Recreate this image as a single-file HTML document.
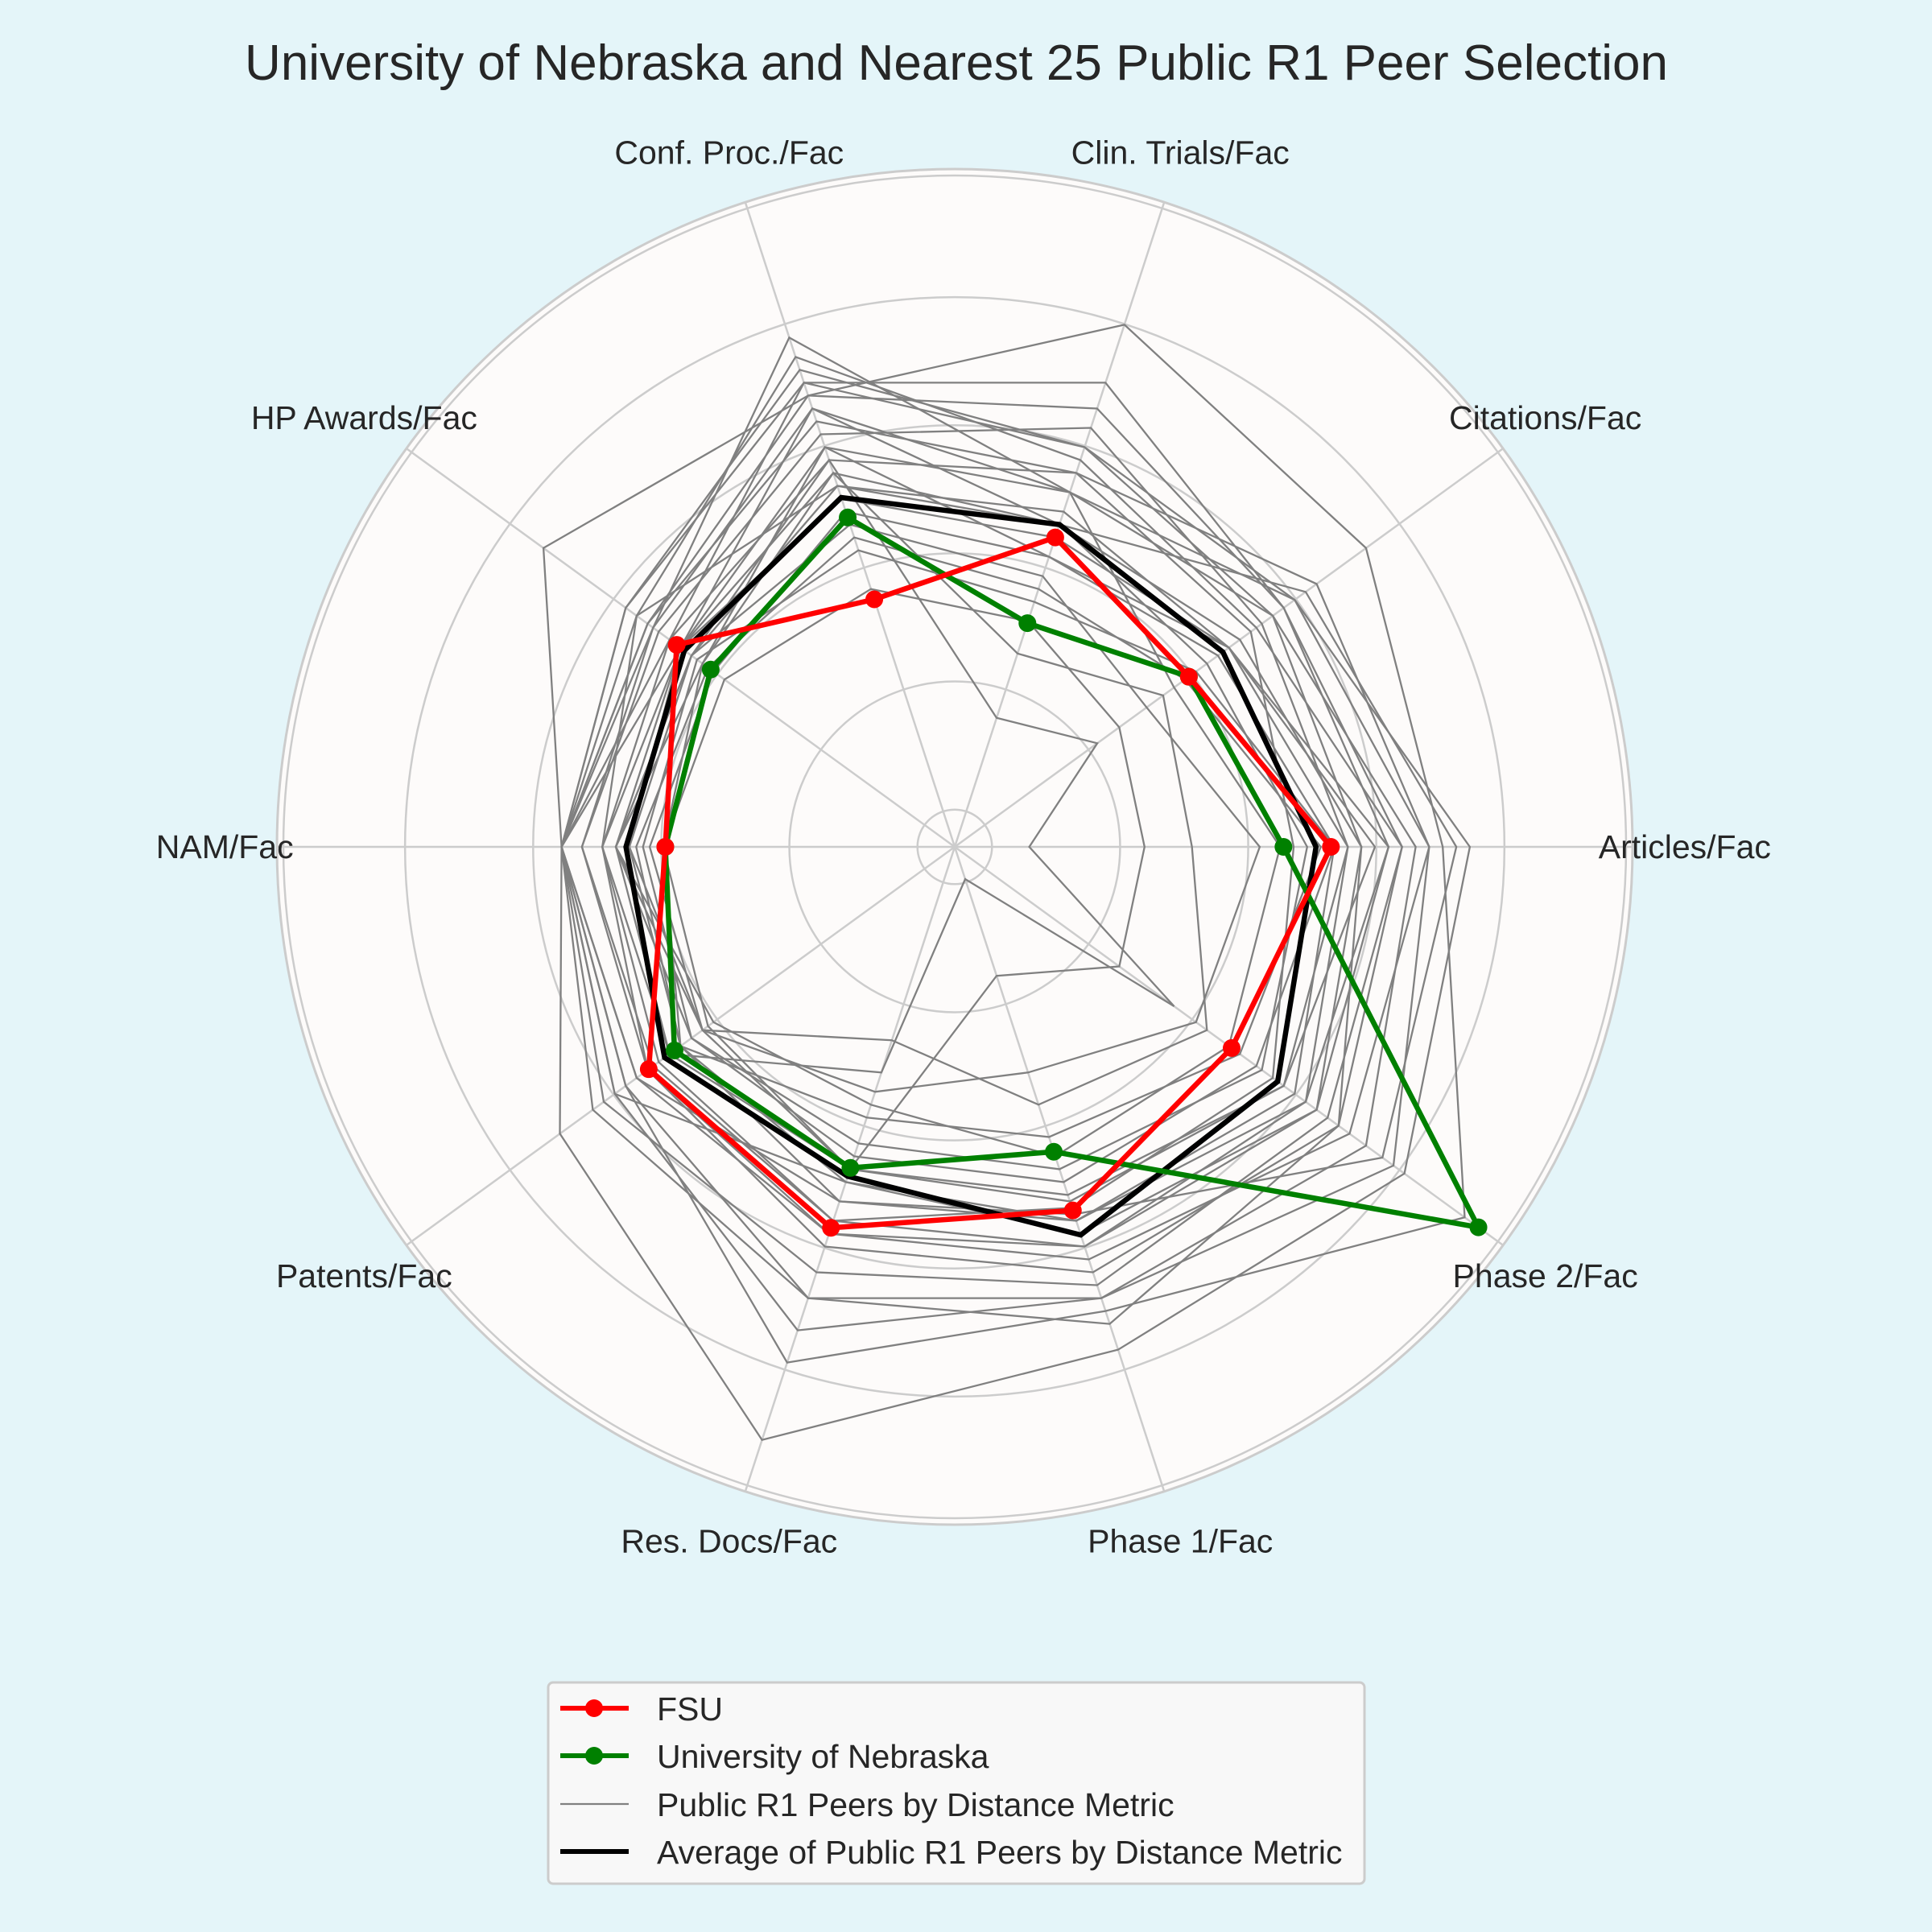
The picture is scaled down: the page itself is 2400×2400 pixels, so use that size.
<!DOCTYPE html>
<html><head><meta charset="utf-8">
<style>
html,body{margin:0;padding:0;background:#e4f5f9;}
svg{display:block;font-family:"Liberation Sans",Arial,sans-serif;}
</style></head>
<body>
<svg id="chart" width="2400" height="2400" viewBox="0 0 2400 2400">
<rect x="0" y="0" width="2400" height="2400" fill="#e4f5f9"/>
<text x="1188" y="99" text-anchor="middle" font-size="62" fill="#262626">University of Nebraska and Nearest 25 Public R1 Peer Selection</text>
<g id="plot"></g>
<g id="legend">
<rect x="681" y="2090" width="1014" height="250" rx="6" fill="#f8f8f8" stroke="#cccccc" stroke-width="3"/>
<g>
<line x1="696" y1="2122" x2="781" y2="2122" stroke="#ff0000" stroke-width="6"/>
<circle cx="738" cy="2122" r="11" fill="#ff0000"/>
<text x="816" y="2137" font-size="41" fill="#262626">FSU</text></g>
<g>
<line x1="696" y1="2181" x2="781" y2="2181" stroke="#008000" stroke-width="6"/>
<circle cx="738" cy="2181" r="11" fill="#008000"/>
<text x="816" y="2196" font-size="41" fill="#262626">University of Nebraska</text></g>
<g>
<line x1="696" y1="2241" x2="781" y2="2241" stroke="#808080" stroke-width="2.3"/>
<text x="816" y="2256" font-size="41" fill="#262626">Public R1 Peers by Distance Metric</text></g>
<g>
<line x1="696" y1="2300" x2="781" y2="2300" stroke="#000000" stroke-width="6"/>
<text x="816" y="2315" font-size="41" fill="#262626">Average of Public R1 Peers by Distance Metric</text></g>
</g>
</svg>
<script>
const categories = ["Articles/Fac","Citations/Fac","Clin. Trials/Fac","Conf. Proc./Fac","HP Awards/Fac","NAM/Fac","Patents/Fac","Res. Docs/Fac","Phase 1/Fac","Phase 2/Fac"];
const fsuValues = [0.555,0.427,0.48,0.384,0.507,0.427,0.558,0.591,0.564,0.505];
const nebraskaValues = [0.485,0.427,0.347,0.511,0.445,0.427,0.511,0.498,0.473,0.955];
const averageValues = [0.533,0.489,0.5,0.542,0.493,0.485,0.529,0.511,0.602,0.589];
const peerValues = [
[0.76,0.62,0.55,0.79,0.55,0.58,0.72,0.92,0.78,0.82],
[0.72,0.75,0.81,0.70,0.75,0.58,0.60,0.80,0.72,0.93],
[0.68,0.58,0.62,0.74,0.60,0.58,0.66,0.70,0.70,0.75],
[0.60,0.52,0.50,0.68,0.50,0.52,0.56,0.62,0.66,0.70],
[0.56,0.48,0.45,0.62,0.46,0.43,0.50,0.55,0.58,0.62],
[0.64,0.60,0.72,0.72,0.52,0.58,0.62,0.52,0.60,0.66],
[0.28,0.30,0.35,0.40,0.42,0.43,0.45,0.50,0.20,0.30],
[0.11,0.26,0.20,0.60,0.48,0.50,0.52,0.35,0.05,0.40],
[0.70,0.66,0.58,0.66,0.56,0.58,0.58,0.60,0.64,0.72],
[0.52,0.46,0.50,0.56,0.48,0.50,0.48,0.46,0.50,0.56],
[0.66,0.55,0.60,0.76,0.58,0.58,0.64,0.66,0.68,0.68],
[0.62,0.50,0.45,0.52,0.44,0.45,0.46,0.50,0.55,0.60],
[0.58,0.56,0.65,0.64,0.54,0.55,0.55,0.58,0.62,0.64],
[0.74,0.64,0.50,0.58,0.50,0.58,0.58,0.55,0.57,0.78],
[0.54,0.42,0.40,0.48,0.45,0.47,0.50,0.42,0.45,0.52],
[0.35,0.38,0.30,0.58,0.46,0.50,0.46,0.30,0.40,0.46],
[0.66,0.60,0.68,0.70,0.56,0.58,0.60,0.70,0.74,0.70],
[0.50,0.54,0.58,0.60,0.52,0.52,0.54,0.58,0.56,0.58],
[0.60,0.58,0.55,0.68,0.55,0.55,0.56,0.60,0.62,0.66],
[0.64,0.50,0.48,0.54,0.50,0.48,0.50,0.52,0.58,0.64],
[0.56,0.44,0.38,0.46,0.47,0.46,0.48,0.48,0.52,0.55],
[0.48,0.40,0.55,0.62,0.50,0.50,0.44,0.40,0.48,0.50],
[0.70,0.62,0.62,0.72,0.60,0.58,0.62,0.75,0.70,0.80],
[0.58,0.50,0.52,0.56,0.58,0.52,0.52,0.50,0.54,0.60],
[0.45,0.35,0.42,0.50,0.48,0.48,0.46,0.38,0.35,0.44]
];
const gridLevels = [0.055,0.244,0.433,0.622,0.811];

const NS = "http://www.w3.org/2000/svg";
const CX = 1186, CY = 1052, R = 842;
const plot = document.getElementById("plot");
function rScale(v){ return v * R; }
function angleOf(i){ return i * 2 * Math.PI / categories.length; }
function pt(i, v){ const a = angleOf(i), r = rScale(v); return [CX + r*Math.cos(a), CY - r*Math.sin(a)]; }
function mk(tag, attrs){ const e = document.createElementNS(NS, tag); for (const k in attrs) e.setAttribute(k, attrs[k]); return e; }

const bg = mk("circle", {cx:CX, cy:CY, r:R, fill:"#fdfbfa", stroke:"#cccccc", "stroke-width":3});


plot.appendChild(bg);
const outer2 = mk("circle", {cx:CX, cy:CY, r:R-8, fill:"none", stroke:"#cccccc", "stroke-width":2.5});


plot.appendChild(outer2);
gridLevels.forEach(g => {
  const c = mk("circle", {cx:CX, cy:CY, r:rScale(g), fill:"none", stroke:"#cccccc", "stroke-width":2.5});
  
  
  plot.appendChild(c);
});
categories.forEach((c, i) => {
  const [x, y] = pt(i, 1);
  const l = mk("line", {x1:CX, y1:CY, x2:x, y2:y, stroke:"#cccccc", "stroke-width":2.5});
  
  
  plot.appendChild(l);
  const [tx, ty] = pt(i, 1.077);
  const t = mk("text", {x:tx, y:ty+14, "text-anchor":"middle", "font-size":41, fill:"#262626"});
  t.textContent = c;
  
  
  plot.appendChild(t);
});
function polyPoints(vals){ return vals.map((v, i) => pt(i, v).map(n => n.toFixed(1)).join(",")).join(" "); }
peerValues.forEach(row => {
  const p = mk("polygon", {points:polyPoints(row), fill:"none", stroke:"#808080", "stroke-width":2.3, "stroke-linejoin":"miter"});
  
  
  plot.appendChild(p);
});
function series(vals, color, markers, name){
  const p = mk("polygon", {points:polyPoints(vals), fill:"none", stroke:color, "stroke-width":6.5, "stroke-linejoin":"miter"});
  
  
  plot.appendChild(p);
  if (markers) vals.forEach((v, i) => {
    const [x, y] = pt(i, v);
    const m = mk("circle", {cx:x, cy:y, r:11, fill:color});
    
    
    plot.appendChild(m);
  });
}
series(averageValues, "#000000", false, "average");
series(nebraskaValues, "#008000", true, "nebraska");
series(fsuValues, "#ff0000", true, "fsu");
</script>
</body></html>
